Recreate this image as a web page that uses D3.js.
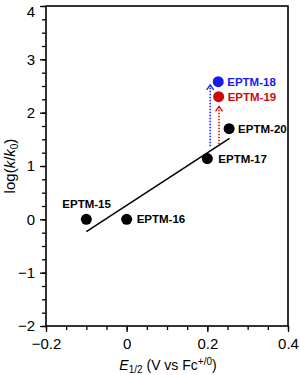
<!DOCTYPE html>
<meta charset="utf-8">
<style>
body{margin:0;background:#fff;}
text{font-family:Arial,"Liberation Sans",sans-serif;}
.tick text{font-size:15px;fill:#000;}
.lbl{font-size:11.5px;font-weight:bold;}
</style>
<body>
<div id="chart"></div>
<script src="https://d3js.org/d3.v7.min.js"></script>
<script>
// compounds, E1/2 (V vs Fc+/0), log(k/k0)
var names = ["EPTM-15","EPTM-16","EPTM-17","EPTM-20","EPTM-19","EPTM-18"];
var e12   = [-0.10, 0.00, 0.20, 0.254, 0.228, 0.227];
var logk  = [0.00, 0.00, 1.14, 1.70, 2.30, 2.58];
var colors = ["#000","#000","#000","#000","#cc0a0a","#1919f5"];
// label offsets (px) from each point
var ldx = [-24, 10, 11, 9, 9, 9];
var ldy = [-11, 4, 4, 4, 4, 4];

// fit line ends
var fitX = [-0.10, 0.255];
var fitY = [-0.23, 1.52];

// arrows: x, from, to
var arrX    = [0.207, 0.229];
var arrFrom = [1.37, 1.41];
var arrTo   = [2.52, 2.12];
var arrCol  = ["#1919f5","#cc0a0a"];

var W = 300, H = 375;
var m = {l:46, t:6, r:12, b:49};

var svg = d3.select("#chart").append("svg").attr("width",W).attr("height",H);

var x = d3.scaleLinear().domain([-0.2,0.4]).range([m.l, W-m.r]);
var y = d3.scaleLinear().domain([-2,4]).range([H-m.b, m.t]);

// minor ticks
svg.append("g").attr("transform","translate(0,"+(H-m.b)+")")
  .call(d3.axisBottom(x).tickValues(d3.range(-0.2,0.401,0.05)).tickSize(4).tickFormat(""))
  .call(g=>g.select(".domain").remove())
  .selectAll("line").attr("stroke-width",1.3);
svg.append("g").attr("transform","translate("+m.l+",0)")
  .call(d3.axisLeft(y).tickValues(d3.range(-2,4.01,0.25)).tickSize(4).tickFormat(""))
  .call(g=>g.select(".domain").remove())
  .selectAll("line").attr("stroke-width",1.3);

// major axes
var xa = svg.append("g").attr("transform","translate(0,"+(H-m.b)+")")
  .call(d3.axisBottom(x).tickValues([-0.2,0,0.2,0.4]).tickSize(6).tickPadding(6)
    .tickFormat(d=>d===0?"0":d3.format(".1f")(d)));
var ya = svg.append("g").attr("transform","translate("+m.l+",0)")
  .call(d3.axisLeft(y).tickValues([-2,-1,0,1,2,3,4]).tickSize(6).tickPadding(5)
    .tickFormat(d3.format("d")));
[xa,ya].forEach(function(g){
  g.select(".domain").remove();
  g.selectAll("line").attr("stroke-width",1.3);
});
// keep the top "4" inside the picture
ya.selectAll(".tick text").filter(d=>d===4).attr("dy","0.7em");

// frame
svg.append("rect").attr("x",m.l).attr("y",m.t)
  .attr("width",W-m.r-m.l).attr("height",H-m.b-m.t)
  .attr("fill","none").attr("stroke","#000").attr("stroke-width",1.6);

// fit line
svg.append("line")
  .attr("x1",x(fitX[0])).attr("y1",y(fitY[0]))
  .attr("x2",x(fitX[1])).attr("y2",y(fitY[1]))
  .attr("stroke","#000").attr("stroke-width",1.5);

// dotted arrows
arrX.forEach(function(v,i){
  svg.append("line")
    .attr("x1",x(v)).attr("x2",x(v))
    .attr("y1",y(arrFrom[i])).attr("y2",y(arrTo[i])+1)
    .attr("stroke",arrCol[i]).attr("stroke-width",1.5)
    .attr("stroke-dasharray","1.5,1.5");
  var tx = x(v), ty = y(arrTo[i]);
  svg.append("path")
    .attr("d","M"+(tx-3.5)+","+(ty+5)+"L"+tx+","+ty+"L"+(tx+3.5)+","+(ty+5))
    .attr("fill","none").attr("stroke",arrCol[i]).attr("stroke-width",1.3);
});

// points
svg.selectAll("circle.pt").data(names).enter().append("circle")
  .attr("class","pt")
  .attr("cx",(d,i)=>x(e12[i])).attr("cy",(d,i)=>y(logk[i]))
  .attr("r",5.5).attr("fill",(d,i)=>colors[i]);

// labels
svg.selectAll("text.lbl").data(names).enter().append("text")
  .attr("class","lbl")
  .attr("x",(d,i)=>x(e12[i])+ldx[i]).attr("y",(d,i)=>y(logk[i])+ldy[i])
  .attr("fill",(d,i)=>colors[i])
  .text(d=>d);

// axis titles
var xt = svg.append("text").attr("x",168).attr("y",370)
  .attr("text-anchor","middle").attr("font-size",14);
xt.append("tspan").attr("font-style","italic").text("E");
xt.append("tspan").attr("font-size",10).attr("dy",3).text("1/2");
xt.append("tspan").attr("dy",-3).text(" (V vs Fc");
xt.append("tspan").attr("font-size",10).attr("dy",-5).text("+/0");
xt.append("tspan").attr("dy",5).text(")");

var yt = svg.append("text").attr("transform","translate(15,"+y(1)+") rotate(-90)")
  .attr("text-anchor","middle").attr("font-size",15);
yt.append("tspan").text("log(");
yt.append("tspan").attr("font-style","italic").text("k");
yt.append("tspan").text("/");
yt.append("tspan").attr("font-style","italic").text("k");
yt.append("tspan").attr("font-size",10).attr("dy",3).text("0");
yt.append("tspan").attr("dy",-3).text(")");
</script>
</body>
